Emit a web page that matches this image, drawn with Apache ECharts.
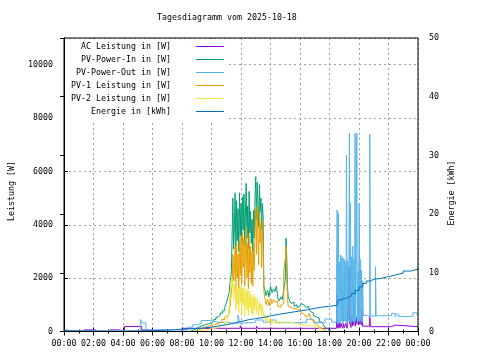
<!DOCTYPE html>
<html><head><meta charset="utf-8">
<script src="https://cdn.jsdelivr.net/npm/echarts@6/dist/echarts.min.js"></script>
<style>html,body{margin:0;padding:0;background:#fff}#c{width:480px;height:360px}</style>
</head><body><div id="c"></div>
<script>
const FONT = 'DejaVu Sans Mono';
const FS = 8.3;
const titleText = 'Tagesdiagramm vom 2025-10-18';
const seriesNames = ['AC Leistung in [W]', 'PV-Power-In in [W]', 'PV-Power-Out in [W]', 'PV-1 Leistung in [W]', 'PV-2 Leistung in [W]', 'Energie in [kWh]'];
const seriesColors = ['#9400d3', '#009e73', '#56b4e9', '#e69f00', '#f0e442', '#0072b2'];
const leftAxisName = 'Leistung [W]';
const rightAxisName = 'Energie [kWh]';
const timeLabels = ['00:00','02:00','04:00','06:00','08:00','10:00','12:00','14:00','16:00','18:00','20:00','22:00','00:00'];

// [hour, W]
const acPower = [[0,0],[0.07,60],[0.18,0],[0.41,60],[0.52,0],[1.2,60],[1.42,0],[1.54,60],[1.76,0],[1.88,60],[2.1,0],[2.33,60],[2.44,0],[2.9,60],[3.12,0],[3.23,60],[3.46,0],[3.57,60],[3.75,0],[4.1,190],[5.27,60],[5.5,0],[7.4,60],[7.5,0],[7.6,60],[7.7,0],[7.8,60],[7.9,0],[8.0,120],[11.95,220],[12.05,120],[13.05,200],[13.12,120],[16.5,170],[16.6,120],
  [18.48,1430],[18.52,350],[18.56,150],[18.6,300],[18.64,120],[18.7,350],[18.75,150],[18.8,300],[18.9,120],[18.95,300],[19.0,150],[19.1,300],[19.2,120],[19.33,2430],[19.36,300],[19.4,500],[19.45,150],[19.5,550],[19.55,200],[19.6,550],[19.65,250],[19.7,500],[19.75,200],[19.8,550],[19.85,300],[19.9,550],[19.95,250],[20.0,500],[20.05,300],[20.1,450],[20.15,250],[20.2,800],[20.24,200],[20.73,550],[20.77,180],[22.2,240],[22.45,180],[24,180]];

const pvInMorning = [[8.5,0],[8.6,50],[8.8,120],[9.0,180],[9.2,220],[9.4,260],[9.6,290],[9.8,330],[10.0,370],[10.15,450],[10.3,540],[10.45,600],[10.6,690],[10.75,780],[10.9,930],[11.0,1050],[11.1,1250],[11.2,1450],[11.25,1800],[11.3,2000],[11.35,2300]];
const pv1Morning = [[8.8,0],[8.9,40],[9.1,100],[9.3,150],[9.5,190],[9.7,220],[10.0,260],[10.2,300],[10.5,350],[10.7,450],[10.9,540],[11.0,600],[11.15,660],[11.25,930],[11.3,1200],[11.35,1500]];
const pv2Morning = [[8.9,0],[9.0,20],[9.3,60],[9.6,100],[10.0,150],[10.5,230],[10.9,350],[11.1,470],[11.2,900],[11.25,1300],[11.3,1700],[11.35,2000]];

const noonHours = [11.40,11.45,11.50,11.55,11.60,11.65,11.70,11.75,11.80,11.85,11.90,11.95,12.00,12.05,12.10,12.15,12.20,12.25,12.30,12.35,12.40,12.45,12.50,12.55,12.60,12.65,12.70,12.75,12.80,12.85,12.90,12.95,13.00,13.05,13.10,13.15,13.20,13.25,13.30,13.35,13.40,13.45,13.50,13.55];
const pvInNoon = [2300,5000,3100,3900,5200,2900,4900,3400,4600,3000,5200,3600,4800,3300,5050,3800,5150,3200,4400,5550,3500,4700,3100,5250,3700,4500,3300,4200,3000,4550,3500,5000,5800,4200,5600,4800,3900,5500,4500,5000,3800,4800,4300,1700];
const pv1Noon = [1700,2900,1900,2300,3200,1500,3300,2000,2900,1600,3400,2100,3600,1800,3700,2400,3500,1700,3000,3900,2000,3300,1600,3600,2200,3200,1800,3000,1700,3300,2300,3800,4600,2900,4700,3500,2500,4500,3300,4100,2400,4200,3200,1500];
const pv2Noon = [2000,1800,1200,1600,1900,800,1700,1000,1600,700,1750,1100,1700,650,1600,1000,1650,600,1400,1600,800,1500,600,1550,900,1400,700,1300,600,1400,800,1300,1300,700,1250,900,600,1100,800,1050,600,1000,700,500];

const pvInAfternoon = [[13.6,1600],[13.7,1350],[13.8,1550],[13.9,1300],[14.0,1700],[14.1,1450],[14.2,1600],[14.3,1500],[14.4,1700],[14.5,1250],[14.6,1150],[14.7,1300],[14.8,1200],[14.9,1550],[15.0,1950],[15.05,3500],[15.1,2800],[15.15,1700],[15.2,1300],[15.3,1150],[15.4,1050],[15.5,1100],[15.6,950],[15.7,1000],[15.8,900],[15.9,950],[16.0,1000],[16.1,1050],[16.2,980],[16.3,1050],[16.4,900],[16.5,950],[16.6,850],[16.7,750],[16.8,700],[16.9,600],[17.0,550],[17.1,520],[17.2,500],[17.3,380],[17.4,340],[17.5,320],[17.6,250],[17.7,150],[17.8,100],[17.9,50],[18.0,20],[18.1,0]];
const pv1Afternoon = [[13.6,1300],[13.7,1000],[13.8,1200],[13.9,950],[14.0,1250],[14.1,1050],[14.2,1200],[14.3,1100],[14.4,1150],[14.5,950],[14.6,900],[14.7,1000],[14.8,1050],[14.9,2300],[15.0,2700],[15.05,3200],[15.1,2000],[15.15,1300],[15.2,950],[15.3,900],[15.4,850],[15.5,850],[15.6,800],[15.7,850],[15.8,780],[15.9,800],[16.0,780],[16.1,700],[16.2,650],[16.3,600],[16.4,550],[16.5,600],[16.6,680],[16.7,550],[16.8,430],[16.9,400],[17.0,300],[17.1,250],[17.2,230],[17.3,150],[17.4,120],[17.5,100],[17.6,50],[17.7,20],[17.8,0]];
const pv2Afternoon = [[13.6,650],[13.7,350],[13.8,600],[13.9,300],[14.0,500],[14.1,300],[14.2,420],[14.3,300],[14.4,400],[14.5,280],[14.6,380],[14.7,300],[14.8,350],[14.9,300],[15.0,350],[15.1,330],[15.2,350],[15.3,300],[15.4,330],[15.5,290],[15.6,300],[15.7,280],[15.8,300],[15.9,260],[16.0,250],[16.2,240],[16.4,230],[16.6,230],[16.8,210],[16.9,200],[17.0,190],[17.1,150],[17.2,110],[17.3,100],[17.4,80],[17.5,60],[17.6,30],[17.7,0]];

const pvOutPower = [[0,30],[5.2,450],[5.23,325],[5.55,60],[8.4,160],[8.7,250],[9.0,300],[9.3,410],[9.9,350],[10.4,310],[11.8,620],[11.9,320],[12.5,350],[13.0,430],[13.5,350],[14.0,430],[14.4,330],[16.45,460],[16.9,330],[17.7,470],[18.15,350],
  [18.48,2550],[18.52,4550],[18.56,250],[18.6,4430],[18.64,300],[18.68,2600],[18.72,350],[18.76,2870],[18.8,400],[18.84,2800],[18.88,300],[18.92,2750],[18.96,350],[19.0,2700],[19.04,400],[19.08,2600],[19.12,350],[19.15,6600],[19.19,300],[19.23,2650],[19.27,400],[19.31,2500],[19.35,7440],[19.39,350],[19.42,4800],[19.46,300],[19.5,2800],[19.54,400],[19.58,3200],[19.62,350],[19.66,2700],[19.7,300],[19.73,7430],[19.77,400],[19.81,2600],[19.85,7430],[19.89,300],[19.93,2250],[19.97,400],[20.01,4800],[20.05,350],[20.09,2700],[20.13,400],[20.17,2300],[20.21,350],[20.25,1900],[20.29,600],[20.5,560],[20.73,7400],[20.77,580],[21.12,2430],[21.16,590],[22.2,680],[22.45,560],[22.55,650],[22.7,560],[23.3,580],[23.65,700],[23.95,600],[24,600]];

// [hour, kWh]
const energy = [[0,0.1],[0.6,0],[3.9,0.1],[5.25,0.3],[7.4,0.45],[8.5,0.5],[9.0,0.6],[9.5,0.75],[10,0.95],[10.5,1.15],[11,1.4],[11.5,1.7],[12,2.0],[12.5,2.2],[13,2.4],[13.5,2.65],[14,2.9],[14.5,3.1],[15,3.3],[15.5,3.5],[16,3.7],[16.5,3.95],[17,4.15],[17.5,4.3],[18,4.45],[18.5,4.7],[18.6,5.4],[18.8,5.6],[19,5.8],[19.25,6.1],[19.5,6.5],[19.75,7.0],[20,7.6],[20.25,8.2],[20.5,8.6],[20.75,8.9],[21,9.05],[21.5,9.35],[22,9.65],[22.5,9.95],[23,10.3],[23.5,10.6],[24,10.9]];

function joinNoon(morning, noonVals, afternoon) {
  return morning.concat(noonHours.map((h, i) => [h, noonVals[i]]), afternoon);
}
const seriesData = [
  acPower,
  joinNoon(pvInMorning, pvInNoon, pvInAfternoon),
  pvOutPower,
  joinNoon(pv1Morning, pv1Noon, pv1Afternoon),
  joinNoon(pv2Morning, pv2Noon, pv2Afternoon),
  energy
];

const txt = { fontFamily: FONT, fontSize: FS, color: '#000', lineHeight: 10 };
const gridLine = { show: true, lineStyle: { color: '#a0a0a0', type: [2, 3], width: 1 } };

const chart = echarts.init(document.getElementById('c'), null, { renderer: 'canvas' });
chart.setOption({
  animation: false,
  backgroundColor: '#fff',
  title: { text: titleText, left: 157, top: 13, padding: 0, textStyle: Object.assign({ fontWeight: 'normal' }, txt) },
  legend: {
    orient: 'vertical', align: 'right', left: 65, top: 39, padding: [2.5, 5, 3.5, 6], itemGap: 3,
    backgroundColor: '#fff', z: 2,
    itemWidth: 28, itemHeight: 1, icon: 'rect', itemStyle: { borderWidth: 0 },
    textStyle: txt, selectedMode: false,
    formatter: n => n + '    ',
    data: seriesNames
  },
  grid: { left: 64, right: 62, top: 38, bottom: 28.5, show: true, borderColor: '#000', borderWidth: 1, backgroundColor: 'transparent', z: 3 },
  xAxis: [{
    type: 'value', min: 0, max: 24, interval: 2, position: 'bottom',
    axisLine: { show: true, lineStyle: { color: '#000' } },
    axisTick: { show: true, inside: true, length: 4, lineStyle: { color: '#000' } },
    minorTick: { show: true, splitNumber: 2, length: 2, lineStyle: { color: '#000' } },
    axisLabel: { margin: 7, formatter: v => timeLabels[Math.round(v / 2)], ...txt },
    splitLine: gridLine
  }, {
    type: 'value', min: 0, max: 24, interval: 2, position: 'top',
    axisLine: { show: true, lineStyle: { color: '#000' } },
    axisTick: { show: true, inside: true, length: 4, lineStyle: { color: '#000' } },
    minorTick: { show: true, splitNumber: 2, length: 2, lineStyle: { color: '#000' } },
    axisLabel: { show: false }, splitLine: { show: false }
  }],
  yAxis: [{
    type: 'value', min: 0, max: 11000, interval: 2000, position: 'left',
    axisLine: { show: true, lineStyle: { color: '#000' } },
    axisTick: { show: true, inside: true, length: 4, lineStyle: { color: '#000' } },
    axisLabel: { margin: 11, showMaxLabel: false, formatter: v => String(v), ...txt },
    splitLine: gridLine
  }, {
    type: 'value', min: 0, max: 50, interval: 10, position: 'right',
    axisLine: { show: true, lineStyle: { color: '#000' } },
    axisTick: { show: true, inside: true, length: 4, lineStyle: { color: '#000' } },
    axisLabel: { margin: 11, formatter: v => String(v), ...txt },
    splitLine: { show: false }
  }],
  graphic: [
    { type: 'text', x: 12, y: 191, rotation: Math.PI / 2, silent: true,
      style: { text: leftAxisName, font: FS + 'px "' + FONT + '"', fill: '#000', align: 'center', verticalAlign: 'middle', textAlign: 'center', textVerticalAlign: 'middle' } },
    { type: 'text', x: 452, y: 193, rotation: Math.PI / 2, silent: true,
      style: { text: rightAxisName, font: FS + 'px "' + FONT + '"', fill: '#000', align: 'center', verticalAlign: 'middle', textAlign: 'center', textVerticalAlign: 'middle' } }
  ],
  series: seriesNames.map((name, i) => ({
    name, type: 'line', step: 'end', symbol: 'none', showSymbol: false, silent: true,
    z: 1,
    xAxisIndex: 0, yAxisIndex: i === 5 ? 1 : 0,
    data: seriesData[i],
    lineStyle: { width: 1, color: seriesColors[i] },
    itemStyle: { color: seriesColors[i] },
    emphasis: { disabled: true }
  }))
});
</script></body></html>
